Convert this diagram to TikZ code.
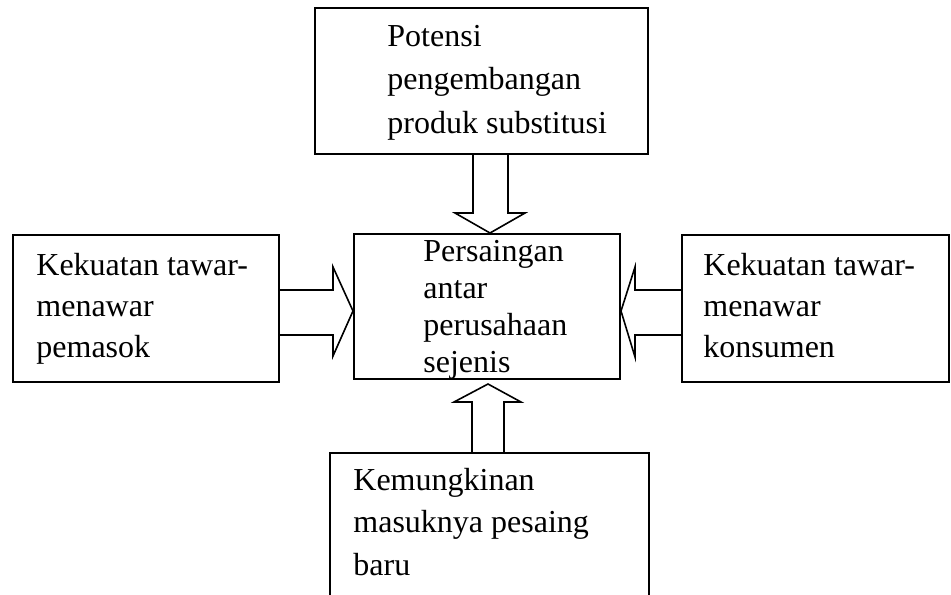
\documentclass[tikz,border=0pt]{standalone}
\usepackage{fontspec}
\setmainfont{Liberation Serif}
\usepackage{tikz}
\usetikzlibrary{calc}

\tikzset{
  box/.style={draw, line width=1pt, inner sep=0pt, anchor=north west},
  txt/.style={inner sep=0pt, anchor=base west, align=left},
  blockarrow/.style={line width=0.8pt, line join=miter}
}

\begin{document}
\begin{tikzpicture}[x=0.5pt,y=-0.5pt]
  \useasboundingbox (0,0) rectangle (951,594);

  \node [box, minimum width=166.5pt, minimum height=73pt] (potensi) at (314,7) {};
  \node [box, minimum width=133pt, minimum height=73.5pt] (pemasok) at (12,234) {};
  \node [box, minimum width=133pt, minimum height=72.5pt] (persaingan) at (353,233) {};
  \node [box, minimum width=133.5pt, minimum height=73.5pt] (konsumen) at (681,234) {};
  \node [box, minimum width=159.5pt, minimum height=90pt] (masuk) at (329,452) {};

  % texts sit on the baseline of their last line
  \node [txt, font=\fontsize{16}{21.75}\selectfont] (potensitxt) at (387,133)
    {Potensi\\pengembangan\\produk substitusi};
  \node [txt, font=\fontsize{16}{20.5}\selectfont] (pemasoktxt) at (36,357)
    {Kekuatan tawar-\\menawar\\pemasok};
  \node [txt, font=\fontsize{16}{18.5}\selectfont] (persaingantxt) at (423,372)
    {Persaingan\\antar\\perusahaan\\sejenis};
  \node [txt, font=\fontsize{16}{20.5}\selectfont] (konsumentxt) at (703,357)
    {Kekuatan tawar-\\menawar\\konsumen};
  \node [txt, font=\fontsize{16}{21.25}\selectfont] (masuktxt) at (353,575)
    {Kemungkinan\\masuknya pesaing\\baru};

  % hollow arrows into the centre box
  \draw [blockarrow] (potensi.south -| 473,0) -- (473,213) -- (455,213)
    -- (persaingan.north -| 490,0) -- (525,213) -- (508,213) -- (potensi.south -| 508,0);
  \draw [blockarrow] (pemasok.east |- 0,290) -- (333,290) -- (333,267)
    -- (persaingan.west |- 0,311) -- (333,356) -- (333,335) -- (pemasok.east |- 0,335);
  \draw [blockarrow] (konsumen.west |- 0,290) -- (635,290) -- (635,267)
    -- (persaingan.east |- 0,311) -- (635,357) -- (635,335) -- (konsumen.west |- 0,335);
  \draw [blockarrow] (masuk.north -| 472,0) -- (472,402) -- (454,402)
    -- (488,384) -- (521,402) -- (504,402) -- (masuk.north -| 504,0);
\end{tikzpicture}
\end{document}
